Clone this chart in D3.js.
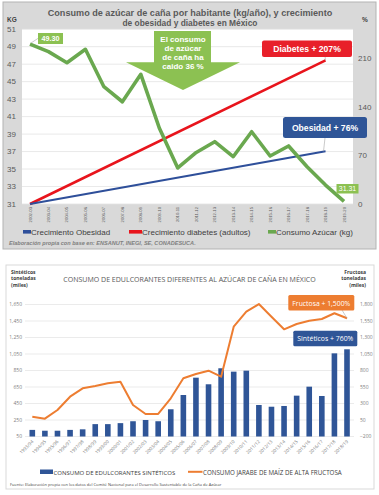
<!DOCTYPE html>
<html><head><meta charset="utf-8">
<script src="https://cdn.jsdelivr.net/npm/d3@7"></script>
<style>body{margin:0;background:#fff}svg{display:block}</style>
</head><body><svg id="c" width="379" height="495"></svg>
<script>
// ---------- DATA: chart 1 ----------
const years1 = ["2002-03","2003-04","2004-05","2005-06","2006-07","2007-08","2008-09","2009-10","2010-11","2011-12","2012-13","2013-14","2014-15","2015-16","2016-17","2017-18","2018-19","2019-20"];
const azucar = [49.30,48.43,47.17,48.70,44.42,42.70,45.84,39.7,35.12,36.9,38.13,36.41,39.27,36.49,37.64,35.27,33.17,31.31];
const growthYears = ["2002-03","2018-19"];
const obesidad = [0,76];
const diabetes = [0,207];
const kgTicks = [31,33,35,37,39,41,43,45,47,49,51];
const pctTicks = [0,70,140,210];

// ---------- DATA: chart 2 ----------
const years2 = ["1993/94","1994/95","1995/96","1996/97","1997/98","1998/99","1999/00","2000/01","2001/02","2002/03","2003/04","2004/05","2005/06","2006/07","2007/08","2008/09","2009/10","2010/11","2011/12","2012/13","2013/14","2014/15","2015/16","2016/17","2017/18","2018/19"];
const sinteticos = [130,120,120,130,137,200,200,212,235,250,235,380,553,763,683,877,836,848,432,411,420,545,654,541,1058,1107];
const fructosa = [100,70,202,403,530,565,606,630,277,141,141,379,682,747,797,706,1464,1691,1807,1615,1424,1505,1555,1580,1667,1591];
const leftTicks2 = [50,250,450,650,850,1050,1250,1450,1650];
const rightTicks2 = [-200,50,300,550,800,1050,1300,1550,1800];

const svg = d3.select("#c");
const F = "'Liberation Sans', Arial, sans-serif";
const FN = "'Liberation Sans Narrow','Open Sans', Arial, sans-serif";

// shrink/grow font size so the text's natural width equals target
function fit(sel, target){
  const n = sel.node();
  const w = n.getComputedTextLength();
  const fs = parseFloat(sel.attr("font-size"));
  if (w > 0) sel.attr("font-size", (fs*target/w).toFixed(3));
  return sel;
}

// ================= CHART 1 =================
const g1 = svg.append("g");
g1.append("rect").attr("x",3).attr("y",2).attr("width",373).attr("height",247)
  .attr("fill","#d9d9d9").attr("stroke","#b3b3b3").attr("stroke-width",1);
g1.append("rect").attr("x",22).attr("y",29.2).attr("width",331).attr("height",174.8).attr("fill","#fff");

const x1 = d3.scalePoint().domain(years1).range([30,344]);
const yK = d3.scaleLinear().domain([31,51]).range([204,29.2]);
const yP = d3.scaleLinear().domain([0,210]).range([204,58.3]);

g1.selectAll(".gl").data(kgTicks).join("line")
  .attr("x1",22).attr("x2",353).attr("y1",d=>yK(d)).attr("y2",d=>yK(d))
  .attr("stroke","#e3e3e3").attr("stroke-width",0.8);

g1.selectAll(".kl").data(kgTicks).join("text")
  .attr("x",16).attr("y",d=>yK(d)+2.8).attr("text-anchor","end")
  .attr("font-family",F).attr("font-size",8).attr("fill","#595959").text(d=>d);
g1.selectAll(".pl").data(pctTicks).join("text")
  .attr("x",358).attr("y",d=>yP(d)+2.8)
  .attr("font-family",F).attr("font-size",8).attr("fill","#595959").text(d=>d);
g1.append("text").attr("x",7).attr("y",22).attr("font-family",F).attr("font-weight","bold")
  .attr("font-size",6.5).attr("fill","#404040").text("KG");
g1.append("text").attr("x",362).attr("y",22).attr("font-family",F).attr("font-weight","bold")
  .attr("font-size",6.5).attr("fill","#404040").text("%");

fit(g1.append("text").attr("x",190).attr("y",16).attr("text-anchor","middle").attr("font-family",F)
  .attr("font-weight","bold").attr("font-size",8.4).attr("fill","#595959")
  .text("Consumo de azúcar de caña por habitante (kg/año), y crecimiento"), 284);
g1.append("text").attr("x",190).attr("y",25.5).attr("text-anchor","middle").attr("font-family",F)
  .attr("font-weight","bold").attr("font-size",8.4).attr("fill","#595959")
  .text("de obesidad y diabetes en México");

g1.selectAll(".xl").data(years1).join("text")
  .attr("transform",d=>`translate(${x1(d)+1.5},207) rotate(-90)`)
  .attr("text-anchor","end").attr("font-family",F).attr("font-size",4.2).attr("fill","#595959").text(d=>d);

const lineP = d3.line().x((d,i)=>x1(growthYears[i])).y(d=>yP(d));
g1.append("path").datum(diabetes).attr("d",lineP).attr("fill","none").attr("stroke","#e8141c").attr("stroke-width",2.6);
g1.append("path").datum(obesidad).attr("d",lineP).attr("fill","none").attr("stroke","#2e4f9a").attr("stroke-width",2);
const lineK = d3.line().x((d,i)=>x1(years1[i])).y(d=>yK(d));
g1.append("path").datum(azucar).attr("d",lineK).attr("fill","none").attr("stroke","#6aa84f")
  .attr("stroke-width",3.6).attr("stroke-linejoin","round");

const cx = 183;
g1.append("path").attr("d",`M${cx-29},31 H${cx+28} V62.3 H240 L${cx},90 L126,62.3 H${cx-29} Z`).attr("fill","#8cc152");
["El consumo","de azúcar","de caña ha","caido 36 %"].forEach((t,i)=>{
  g1.append("text").attr("x",cx).attr("y",41.5+i*9.3).attr("text-anchor","middle").attr("font-family",F)
    .attr("font-weight","bold").attr("font-size",8).attr("fill","#fff").text(t);
});

const first = azucar[0], last = azucar[azucar.length-1];
g1.append("line").attr("x1",x1(years1[0])+1).attr("y1",yK(first)-1).attr("x2",38.5).attr("y2",38).attr("stroke","#a6a6a6").attr("stroke-width",0.6);
g1.append("rect").attr("x",38).attr("y",33).attr("width",25).attr("height",11).attr("fill","#8cc152");
g1.append("text").attr("x",50.5).attr("y",41.3).attr("text-anchor","middle").attr("font-family",F).attr("font-weight","bold")
  .attr("font-size",7.2).attr("fill","#fff").text(first.toFixed(2));
g1.append("rect").attr("x",336.5).attr("y",184).attr("width",22).attr("height",9.5).attr("fill","#8cc152");
g1.append("text").attr("x",347.5).attr("y",191.3).attr("text-anchor","middle").attr("font-family",F)
  .attr("font-size",7).attr("fill","#fff").text(last.toFixed(2));

g1.append("line").attr("x1",325).attr("y1",56).attr("x2",x1("2018-19")).attr("y2",yP(207)).attr("stroke","#a6a6a6").attr("stroke-width",0.6);
g1.append("rect").attr("x",262).attr("y",40.5).attr("width",90).attr("height",16.5).attr("rx",2).attr("fill","#e8202a");
g1.append("text").attr("x",307).attr("y",52).attr("text-anchor","middle").attr("font-family",F).attr("font-weight","bold")
  .attr("font-size",8.6).attr("fill","#fff").text("Diabetes + 207%");
g1.append("line").attr("x1",325).attr("y1",138).attr("x2",x1("2018-19")-2).attr("y2",yP(76)).attr("stroke","#a6a6a6").attr("stroke-width",0.6);
g1.append("rect").attr("x",283).attr("y",117).attr("width",84).attr("height",21).attr("rx",2.5).attr("fill","#2f5597");
g1.append("text").attr("x",325).attr("y",130.8).attr("text-anchor","middle").attr("font-family",F).attr("font-weight","bold")
  .attr("font-size",8.6).attr("fill","#fff").text("Obesidad + 76%");

const leg1 = [["Crecimiento Obesidad","#2e4f9a",23,8],["Crecimiento diabetes (adultos)","#e8141c",129,13],["Consumo Azúcar (kg)","#6aa84f",268,8]];
leg1.forEach(([t,c,x,w])=>{
  g1.append("rect").attr("x",x).attr("y",230).attr("width",w).attr("height",3.6).attr("fill",c);
  g1.append("text").attr("x",x+w).attr("y",234.8).attr("font-family",F).attr("font-size",8).attr("fill","#404040").text(t);
});
fit(g1.append("text").attr("x",9).attr("y",244.5).attr("font-family",F).attr("font-style","italic").attr("font-weight","bold")
  .attr("font-size",5.6).attr("fill","#808080")
  .text("Elaboración propia con base en: ENSANUT, INEGI, SE, CONADESUCA."), 187);

// ================= CHART 2 =================
const g2 = svg.append("g");
g2.append("rect").attr("x",6).attr("y",265).attr("width",368).attr("height",224).attr("fill","#fff").attr("stroke","#d9d9d9").attr("stroke-width",1);

const x2 = d3.scalePoint().domain(years2).range([32.3,347]);
const yL2 = d3.scaleLinear().domain([50,1650]).range([436.5,304.5]);
const yR2 = d3.scaleLinear().domain([-200,1800]).range([436.5,304.5]);

g2.selectAll(".g2l").data(leftTicks2).join("line")
  .attr("x1",25).attr("x2",354).attr("y1",d=>yL2(d)).attr("y2",d=>yL2(d))
  .attr("stroke","#e6e6e6").attr("stroke-width",0.8);
g2.selectAll(".lt").data(leftTicks2).join("text")
  .attr("x",22).attr("y",d=>yL2(d)+1.8).attr("text-anchor","end").attr("font-family",FN)
  .attr("font-size",5).attr("fill","#808080").text(d=>d3.format(",")(d));
g2.selectAll(".rt").data(rightTicks2).join("text")
  .attr("x",360).attr("y",d=>yR2(d)+1.8).attr("font-family",FN)
  .attr("font-size",5).attr("fill","#808080").text(d=>d3.format(",")(d));

["Sintéticos","toneladas","(miles)"].forEach((t,i)=>{
  g2.append("text").attr("x",11).attr("y",273.5+i*6.6).attr("font-family",FN).attr("font-weight","bold")
    .attr("font-size",5).attr("fill","#404040").text(t);
});
["Fructosa","toneladas","(miles)"].forEach((t,i)=>{
  g2.append("text").attr("x",366).attr("y",273.5+i*6.6).attr("text-anchor","end").attr("font-family",FN).attr("font-weight","bold")
    .attr("font-size",5).attr("fill","#404040").text(t);
});

fit(g2.append("text").attr("x",189.5).attr("y",281.5).attr("text-anchor","middle").attr("font-family",FN)
  .attr("font-size",9.5).attr("fill","#595959")
  .text("CONSUMO DE EDULCORANTES DIFERENTES AL AZÚCAR DE CAÑA EN MÉXICO"), 253);

const bw = 5.6;
g2.selectAll(".bar").data(sinteticos).join("rect")
  .attr("x",(d,i)=>x2(years2[i])-bw/2).attr("y",d=>yL2(d))
  .attr("width",bw).attr("height",d=>yL2(50)-yL2(d)).attr("fill","#2f5597");

const line2 = d3.line().x((d,i)=>x2(years2[i])).y(d=>yR2(d));
g2.append("path").datum(fructosa).attr("d",line2).attr("fill","none").attr("stroke","#ed7d31")
  .attr("stroke-width",2).attr("stroke-linejoin","round");

g2.selectAll(".xl2").data(years2).join("text")
  .attr("transform",d=>`translate(${x2(d)+1.5},442) rotate(-45)`)
  .attr("text-anchor","end").attr("font-family",FN).attr("font-size",4.6).attr("fill","#808080").text(d=>d);

g2.append("line").attr("x1",342).attr("y1",310).attr("x2",x2("2018/19")).attr("y2",yR2(fructosa[25])).attr("stroke","#a6a6a6").attr("stroke-width",0.6);
g2.append("rect").attr("x",288.3).attr("y",295).attr("width",66).attr("height",15.5).attr("rx",1.5).attr("fill","#ed7d31");
fit(g2.append("text").attr("x",321.3).attr("y",305.5).attr("text-anchor","middle").attr("font-family",FN)
  .attr("font-size",7.6).attr("fill","#fff").text("Fructosa + 1,500%"), 58);
g2.append("rect").attr("x",293.3).attr("y",330.7).attr("width",64).attr("height",15.5).attr("rx",1.5).attr("fill","#2f5597");
fit(g2.append("text").attr("x",325.3).attr("y",341.2).attr("text-anchor","middle").attr("font-family",FN)
  .attr("font-size",7.6).attr("fill","#fff").text("Sintéticos + 760%"), 56);

g2.append("rect").attr("x",40).attr("y",469.5).attr("width",13).attr("height",4.5).attr("fill","#2f5597");
fit(g2.append("text").attr("x",53.5).attr("y",474.5).attr("font-family",FN).attr("font-size",7.5).attr("fill","#404040")
  .text("CONSUMO DE EDULCORANTES SINTÉTICOS"), 122);
g2.append("line").attr("x1",188).attr("x2",202.5).attr("y1",471.8).attr("y2",471.8).attr("stroke","#ed7d31").attr("stroke-width",2);
fit(g2.append("text").attr("x",203).attr("y",474.5).attr("font-family",FN).attr("font-size",7.5).attr("fill","#404040")
  .text("CONSUMO JARABE DE MAÍZ DE ALTA FRUCTOSA"), 139);
fit(g2.append("text").attr("x",10).attr("y",485.5).attr("font-family",FN).attr("font-size",4.3).attr("fill","#404040")
  .text("Fuente: Elaboración propia con los datos del Comité Nacional para el Desarrollo Sustentable de la Caña de Azúcar"), 212);
</script></body></html>
